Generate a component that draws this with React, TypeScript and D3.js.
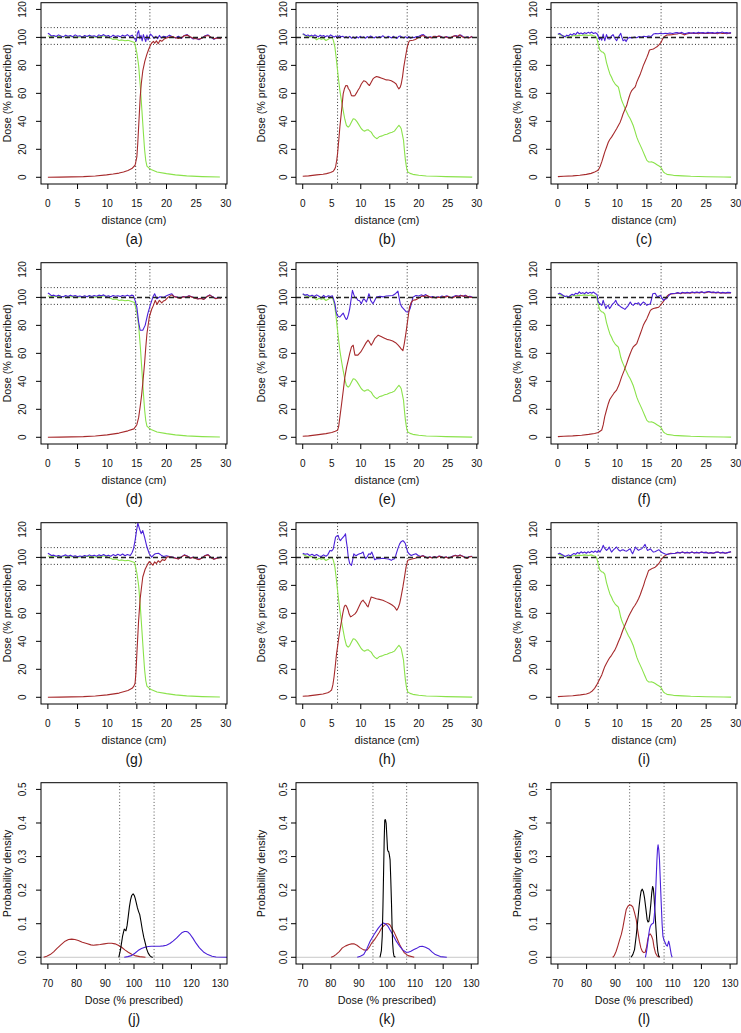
import * as d3 from 'd3';

type Pt = [number, number];

const RED = '#a62a2c';
const GREEN = '#8ae24a';
const BLUE = '#4a20d8';

const DIST_TICKS = [0, 5, 10, 15, 20, 25, 30];
const DOSE_TICKS = [0, 20, 40, 60, 80, 100, 120];
const DENS_X_TICKS = [70, 80, 90, 100, 110, 120, 130];
const DENS_Y_TICKS = [0, 0.1, 0.2, 0.3, 0.4, 0.5];
const TOLERANCE = [95, 107];
const PRESCRIBED = 100;

// field edges (cm) per column
const EDGES = [[14.8, 17.2], [6.0, 18.0], [6.8, 17.4]];

// ---- column 1: green field (a, d, g)
const GREEN_1: Pt[] = [[0,101],[1,100.5],[2,100.8],[3,100.3],[4,100.6],[5,100.2],[6,100.5],[7,100.8],[8,100.2],[9,100.6],[9.5,101.2],[10,100.4],[10.5,99.6],[11,98.5],[11.5,98.8],[12,97.8],[12.5,98.2],[13,97.6],[13.5,97.9],[14,97.3],[14.6,96.4],[15.0,89],[15.3,80],[15.6,64],[15.85,48],[16.1,32],[16.3,20],[16.5,12],[16.7,8],[17.1,6.4],[17.4,5.6],[18.4,3.8],[20,2.6],[21.5,1.7],[23.4,1.0],[26,0.5],[29,0.2]];

const RED_A: Pt[] = [[0,0],[2,0.1],[4,0.3],[6,0.5],[8,0.9],[9.9,1.7],[11,2.3],[12,3.0],[12.75,3.8],[13.5,4.9],[14.16,6.2],[14.7,8.6],[15.0,14.5],[15.15,24],[15.3,36],[15.45,48],[15.56,57],[15.75,67],[16.0,76],[16.35,83],[16.7,88],[17.0,91.5],[17.25,94],[17.5,96],[17.8,97.2],[18.0,95.8],[18.3,97.5],[18.6,95.5],[18.9,98],[19.2,97.2],[19.6,98.8],[20,99.6],[20.5,100.2],[21,100.6],[21.5,99.8],[22,99.2],[22.5,99.8],[23,101.2],[23.5,101.6],[24,100.4],[24.5,99.4],[25,99.0],[25.5,98.8],[26,99.6],[26.5,100.8],[27,101.4],[27.5,100.2],[28,99.0],[28.5,99.6],[29.2,99.2]];

const BLUE_A: Pt[] = [[0,103],[0.3,102.2],[0.6,101],[1,101.4],[1.4,100.6],[1.8,101.8],[2.2,101],[2.6,100.4],[3,101.6],[3.4,100.8],[3.8,101.4],[4.2,100.5],[4.6,101.8],[5,100.8],[5.4,101.2],[5.8,100.2],[6.2,101.4],[6.6,100.6],[7,101.6],[7.4,100.8],[7.8,101.2],[8.2,100.4],[8.6,101.8],[9,101],[9.4,102],[9.8,100.8],[10.2,101.4],[10.6,100.2],[11,101.6],[11.4,100.6],[11.8,101.2],[12.2,100.4],[12.6,101.6],[13,100.8],[13.4,102],[13.8,100.6],[14.2,101.6],[14.6,99.2],[14.9,97.4],[15.1,103],[15.3,104.8],[15.5,99],[15.7,101.5],[15.9,97.5],[16.1,102],[16.3,99.5],[16.5,97],[16.7,101.6],[16.9,98.2],[17.1,100.4],[17.3,102.4],[17.6,101],[17.9,99.2],[18.2,100.8],[18.5,99],[18.8,101.4],[19.1,99.6],[19.5,100.8],[20,100.2],[20.5,101.6],[21,100.4],[21.5,99.6],[22,100.8],[22.5,99.2],[23,101.4],[23.5,102],[24,100.2],[24.5,98.8],[25,99.4],[25.5,98.4],[26,99.6],[26.5,101.2],[27,101.8],[27.5,100],[28,98.6],[28.5,99.8],[29.2,99]];

const RED_D: Pt[] = [[0,0],[2,0.1],[4,0.3],[6,0.5],[8,0.9],[10,1.7],[12,3.0],[13.5,4.6],[14.5,6.0],[15.0,9],[15.3,14],[15.56,21.9],[15.8,30],[16.0,38.5],[16.3,52.7],[16.5,64],[16.7,74],[17.1,86],[17.5,91.5],[17.8,94.3],[18.1,97.9],[18.4,95],[18.8,97.9],[19.2,96],[19.5,97.5],[19.8,98],[20.3,100.2],[20.9,101.8],[21.3,100.4],[21.8,100],[22.3,99.2],[22.8,100.4],[23.3,100],[23.8,101],[24.3,100.2],[24.8,99.4],[25.3,98.8],[25.8,99.2],[26.3,98.6],[26.8,100.4],[27.3,101.6],[27.8,100.2],[28.3,99],[28.8,99.8],[29.2,99.4]];

const BLUE_D: Pt[] = [[0,103.2],[0.3,102.4],[0.6,101.2],[1,101.6],[1.4,100.8],[1.8,101.6],[2.2,100.8],[2.6,100.4],[3,101.4],[3.4,100.6],[3.8,101.6],[4.2,100.8],[4.6,101.4],[5,100.6],[5.4,101],[5.8,100.4],[6.2,101.2],[6.6,100.4],[7,101.4],[7.4,100.6],[7.8,101.4],[8.2,100.8],[8.6,101.6],[9,101.2],[9.4,101.8],[9.8,100.6],[10.2,101.2],[10.6,100.4],[11,101.4],[11.4,100.8],[11.8,101.2],[12.2,100.6],[12.6,101.4],[13,100.8],[13.4,101.6],[13.8,100.8],[14.1,101.6],[14.4,101.4],[14.7,97.9],[15.0,93],[15.3,82.4],[15.56,76.5],[16.0,76.5],[16.4,80],[16.85,88.4],[17.25,94.3],[17.7,100.2],[18.0,102.6],[18.37,99],[18.9,100.5],[19.5,100],[20,101.2],[20.5,102],[20.9,102.6],[21.3,100.6],[21.8,100.2],[22.3,99.4],[22.8,100.6],[23.3,100.2],[23.8,101.2],[24.3,100.4],[24.8,99.6],[25.3,99],[25.8,99.4],[26.3,98.8],[26.8,100.6],[27.3,101.8],[27.8,100.4],[28.3,99.2],[28.8,100],[29.2,99.6]];

const RED_G: Pt[] = [[0,0],[2,0.1],[4,0.3],[6,0.5],[8,0.9],[10,1.7],[12,3.0],[13.5,4.9],[14.2,6.4],[14.5,8],[14.7,10],[14.85,18],[15.0,31],[15.15,43],[15.3,55],[15.56,70.5],[15.8,79],[16.0,86],[16.4,91.5],[16.8,95],[17.1,97],[17.4,95.8],[17.7,94.4],[18.0,96.8],[18.3,95.6],[18.6,97.6],[18.9,96.4],[19.3,98.4],[19.7,97.8],[20.1,100.4],[20.5,100.4],[21,100],[21.5,99.4],[22,98.8],[22.5,100.2],[23,101.6],[23.5,100.8],[24,99.4],[24.5,100],[25,99],[25.5,98.4],[26,99.6],[26.5,101.2],[27,101.8],[27.5,99.8],[28,98.6],[28.5,99.4],[29.2,100]];

const BLUE_G: Pt[] = [[0,103],[0.3,102.2],[0.6,101.4],[1,101.6],[1.4,100.8],[1.8,101.4],[2.2,100.6],[2.6,101.2],[3,101.8],[3.4,100.8],[3.8,101.6],[4.2,100.6],[4.6,101.2],[5,100.4],[5.4,101],[5.8,100.6],[6.2,101.4],[6.6,100.8],[7,101.8],[7.4,101],[7.8,101.6],[8.2,100.8],[8.6,101.8],[9,101.2],[9.4,102],[9.8,101],[10.2,101.6],[10.6,100.8],[11,102],[11.4,101.2],[11.8,102.2],[12.2,101.4],[12.6,102.4],[13,101.2],[13.4,102],[13.9,101.4],[14.2,103.5],[14.44,106.2],[14.7,112],[15.0,120.4],[15.17,124.5],[15.45,120.4],[15.73,117],[16.0,119.2],[16.3,114.5],[16.7,107.4],[17.1,102.6],[17.5,100.2],[17.8,101.6],[18.1,102.6],[18.65,103],[19.1,101.6],[19.5,100.7],[20,101.2],[20.5,100.6],[21,100.2],[21.5,99.6],[22,99],[22.5,100.4],[23,101.8],[23.5,101],[24,99.6],[24.5,100.2],[25,99.2],[25.5,98.6],[26,99.8],[26.5,101.4],[27,102],[27.5,100],[28,98.8],[28.5,99.6],[29.2,100.2]];

// ---- column 2: green field (b, e, h)
const GREEN_2: Pt[] = [[0,102.2],[0.5,101.2],[1,100.2],[1.5,100.6],[2,99.6],[2.4,98.2],[2.8,99.4],[3.2,98.6],[3.6,99.2],[4,97.8],[4.4,98.6],[4.8,99.8],[5.1,99.8],[5.3,97.5],[5.54,93],[5.75,86],[5.94,78.6],[6.2,69],[6.4,62],[6.7,54],[6.97,47.7],[7.25,41.5],[7.54,37],[7.83,35.9],[8.1,37],[8.4,39.5],[8.7,41.8],[9.0,41.5],[9.3,40],[9.5,38.7],[10.1,34.7],[10.4,33.5],[10.7,33],[11.0,33.8],[11.26,34],[11.5,33.2],[11.8,32.3],[12.1,30.2],[12.4,28.7],[12.8,27.6],[13.26,29.2],[13.7,29.6],[14.1,30.4],[14.5,30.8],[14.97,31.6],[15.4,32.2],[15.8,33],[16.2,35.2],[16.57,37.2],[16.8,36],[16.97,34.7],[17.2,30],[17.37,26.4],[17.55,18],[17.7,12.1],[17.9,6.5],[18.1,3.8],[18.5,2.8],[18.97,2.1],[20,1.5],[21.3,0.95],[23,0.7],[24.7,0.5],[27,0.3],[29.2,0.1]];

const RED_B: Pt[] = [[0,0.7],[1,1],[2.4,1.7],[3.5,2.2],[4.1,2.6],[4.8,3.4],[5.26,4.3],[5.5,5.8],[5.66,7.4],[5.85,12],[6.0,16.9],[6.2,26],[6.4,35.9],[6.7,48],[6.97,59.6],[7.2,63.5],[7.43,65.6],[7.7,65.4],[7.85,63.5],[8.1,62],[8.4,58.4],[8.7,58.2],[9.0,58.4],[9.3,60.5],[9.5,62],[9.8,64],[10.1,66.7],[10.5,69],[10.75,68.6],[10.97,68],[11.25,66.5],[11.5,65.6],[11.8,68],[12.1,70.3],[12.4,71.4],[12.7,72],[13.1,71.6],[13.5,71],[14.0,70.2],[14.4,69.6],[14.8,69.5],[15.26,69],[15.7,68],[16.1,66.7],[16.35,64.5],[16.57,63.2],[16.8,64.5],[16.97,66.7],[17.2,72],[17.4,78.6],[17.7,86],[18.0,92.9],[18.2,96],[18.4,97.6],[19.0,98],[19.4,98.5],[19.8,99.5],[20.2,100.2],[20.6,101.4],[21,100.8],[21.4,99.4],[21.8,100.2],[22.2,99.6],[22.6,100.8],[23,100.2],[23.4,101],[23.8,100.4],[24.2,99.6],[24.6,100.4],[25,99.8],[25.4,99.4],[25.8,100.6],[26.2,101.2],[26.6,100.4],[27,101.8],[27.4,100.6],[27.8,99.8],[28.2,100.2],[28.6,99.6],[29.2,100.6]];

const BLUE_B: Pt[] = [[0,102.6],[0.3,102],[0.6,101.2],[0.9,101.8],[1.2,100.8],[1.5,101.6],[1.8,100.8],[2.1,101.8],[2.4,101],[2.7,100.4],[3,101.6],[3.3,100.8],[3.6,101.4],[3.9,100.4],[4.2,101.2],[4.5,100.6],[4.8,101.8],[5.1,101],[5.4,100.2],[5.7,101],[6,100.2],[6.3,101.2],[6.6,100.4],[6.9,100.8],[7.2,99.8],[7.5,100.6],[7.8,99.6],[8.1,100.8],[8.4,99.4],[8.7,100.4],[9,99.2],[9.3,100.6],[9.6,99.6],[9.9,100.8],[10.2,99.8],[10.5,100.4],[10.8,99.4],[11.1,100.6],[11.4,99.8],[11.7,101],[12,100.2],[12.3,99.6],[12.6,100.4],[12.9,99.8],[13.2,100.6],[13.5,100],[13.8,101.2],[14.1,100],[14.4,99.6],[14.7,100.8],[15,100.2],[15.3,99.6],[15.6,100.8],[15.9,100],[16.2,99.2],[16.5,100.6],[16.8,101],[17.1,100.2],[17.4,99.6],[17.7,100.4],[18,99.8],[18.3,100.6],[18.6,99.4],[18.9,100.2],[19.2,99.8],[19.5,100.4],[20,100.8],[20.4,101.6],[20.8,102],[21.2,100.6],[21.6,99.6],[22,100.4],[22.4,99.8],[22.8,100.8],[23.2,100.4],[23.6,101],[24,100.2],[24.4,99.8],[24.8,100.6],[25.2,99.6],[25.6,99.8],[26,100.8],[26.4,101.4],[26.8,100.6],[27.2,101.8],[27.6,100.6],[28,99.8],[28.4,100.4],[28.8,99.8],[29.2,100.8]];

const RED_E: Pt[] = [[0,0.7],[1,1],[2.4,1.7],[4,2.6],[5,3.4],[5.6,4.3],[6.0,5.0],[6.2,8],[6.45,16],[6.7,24],[7.0,34],[7.26,43],[7.55,50],[7.83,55],[8.1,60],[8.4,64.6],[8.7,65.8],[8.85,62],[9.0,58.7],[9.5,58.7],[10.0,61],[10.5,64.6],[10.9,67.5],[11.26,69.4],[11.5,68],[11.8,65.8],[12.1,68],[12.4,70.5],[12.7,71.8],[13.0,73],[13.5,72],[14,71],[14.5,70],[15,69.6],[15.5,68.8],[16,67.6],[16.4,66],[16.7,64.6],[17.0,63],[17.26,62],[17.5,67],[17.8,75],[18.1,84],[18.4,93],[18.7,96.5],[19.0,97.9],[19.4,98.2],[19.8,99],[20.2,100],[20.6,101],[21,100.6],[21.4,101.4],[21.8,100.4],[22.2,99.8],[22.6,100.2],[23,99.6],[23.4,100.2],[23.8,99.8],[24.2,100.6],[24.6,100.2],[25,100.8],[25.4,100],[25.8,99.6],[26.2,100.4],[26.6,101],[27,100.6],[27.4,101.4],[27.8,100.6],[28.2,101.2],[28.6,100.2],[29.2,100]];

const BLUE_E: Pt[] = [[0,102.6],[0.4,101.6],[0.8,102],[1.2,100.8],[1.6,101.6],[2,100.6],[2.4,101.8],[2.8,100.8],[3.2,99.6],[3.6,101.4],[4,100.2],[4.4,101.2],[4.8,100.6],[5.1,101.2],[5.3,99],[5.54,95.5],[5.75,90],[5.94,87],[6.2,86.4],[6.4,86],[6.7,87.5],[6.97,88.8],[7.26,86],[7.5,84.2],[7.66,84.8],[7.9,88],[8.1,92],[8.35,99],[8.57,105],[8.8,102],[9.0,100],[9.3,99.4],[9.5,98],[9.8,97.6],[10.1,95.5],[10.3,97.5],[10.5,99],[10.75,98],[10.97,96.7],[11.2,99.5],[11.4,102.6],[11.55,101],[11.7,97.9],[12.1,95.5],[12.4,97.8],[12.7,100.2],[13.3,100.7],[13.9,100.4],[14.4,101],[15,101.2],[15.5,101.4],[15.9,102.4],[16.4,104.5],[16.6,100],[16.8,95.5],[17.1,93],[17.5,91.2],[17.8,89.8],[18.1,89.5],[18.3,90.2],[18.5,92],[18.75,96],[19.0,100.2],[19.5,101.4],[20,101],[20.4,101.8],[20.8,101.2],[21.2,102],[21.6,100.8],[22,100.2],[22.4,100.6],[22.8,99.8],[23.2,100.4],[23.6,100],[24,101],[24.4,100.4],[24.8,101.2],[25.2,100.4],[25.6,99.8],[26,100.6],[26.4,101.4],[26.8,100.8],[27.2,101.6],[27.6,100.8],[28,101.6],[28.4,100.4],[28.8,100.8],[29.2,100.2]];

const RED_H: Pt[] = [[0,0.7],[1,1],[2.4,1.7],[3.5,2.3],[4.3,3.2],[4.7,4.2],[4.97,5.2],[5.2,9],[5.4,14.7],[5.6,22],[5.83,31.4],[6.0,36],[6.23,43.2],[6.45,49],[6.7,55],[6.9,60],[7.14,64.6],[7.3,65.8],[7.43,65.8],[7.6,64.5],[7.83,62.2],[8.0,59.5],[8.23,57.5],[8.45,58],[8.7,58.7],[9.0,59.6],[9.26,61],[9.6,64],[9.94,67],[10.15,68.6],[10.4,69.4],[10.6,68.2],[10.86,67],[11.05,65.5],[11.26,64.6],[11.5,68],[11.8,71.7],[12.2,71.2],[12.7,70.5],[13.2,70],[13.8,69.4],[14.4,68.2],[14.97,67],[15.4,66],[15.8,64.6],[16.0,63.5],[16.2,62.2],[16.45,64],[16.7,67],[16.95,72],[17.26,78.9],[17.5,85],[17.8,93.1],[18.1,97.9],[18.5,98.5],[19.0,99],[19.4,99.4],[19.8,100.2],[20.3,100.4],[20.7,101.2],[21.1,100.2],[21.5,99.4],[21.9,100.2],[22.3,99.6],[22.7,100.4],[23.1,99.8],[23.5,100.8],[23.9,100.4],[24.3,99.6],[24.7,100.2],[25.1,99.4],[25.5,100],[25.9,100.8],[26.3,101.4],[26.7,100.8],[27.1,101.6],[27.5,100.8],[27.9,100],[28.3,99.2],[28.7,100.4],[29.2,100.6]];

const BLUE_H: Pt[] = [[0,103],[0.4,102.2],[0.8,102.6],[1.2,101.4],[1.6,102.2],[2,101.2],[2.4,102],[2.8,101],[3.2,100.6],[3.6,101.8],[4,100.8],[4.3,101.8],[4.7,105],[5.0,104.6],[5.26,106],[5.45,110],[5.66,114.5],[5.9,115.4],[6.1,115.7],[6.3,113],[6.5,112],[6.75,113.5],[6.97,114.5],[7.2,115.5],[7.37,116.9],[7.5,112],[7.66,107.4],[7.85,100],[8.1,95.5],[8.4,94.3],[8.6,98],[8.8,102.6],[9.0,101.6],[9.26,101.4],[9.5,102],[9.8,102.6],[10.1,103],[10.4,103.8],[10.6,101],[10.86,99],[11.1,100.5],[11.4,102.6],[11.65,102],[11.9,103.8],[12.15,101],[12.4,98.3],[12.8,99.2],[13.26,99],[13.8,99.4],[14.4,99],[14.8,98.8],[15.26,97.9],[15.5,98.6],[15.8,99],[16.0,101],[16.2,103.8],[16.45,107],[16.7,109.7],[17.0,111.4],[17.26,112],[17.5,111],[17.7,109.7],[17.9,106.5],[18.1,103.8],[18.4,102.2],[18.7,101.4],[19.1,102],[19.5,102.6],[19.9,101.4],[20.3,100.6],[20.7,101.4],[21.1,100.4],[21.5,99.6],[21.9,100.4],[22.3,99.8],[22.7,100.6],[23.1,100],[23.5,101],[23.9,100.6],[24.3,99.8],[24.7,100.4],[25.1,99.6],[25.5,100.2],[25.9,101],[26.3,101.6],[26.7,101],[27.1,101.8],[27.5,101],[27.9,100.2],[28.3,99.4],[28.7,100.6],[29.2,100.8]];

// ---- column 3: green field (c, f, i)
const GREEN_3: Pt[] = [[0,102.4],[0.4,101.8],[0.8,101.2],[1.2,100.6],[1.6,100],[2,100.4],[2.4,101],[2.8,101.4],[3.2,101.2],[3.6,101.6],[4,101.4],[4.4,101.8],[4.8,101.6],[5.2,101.4],[5.6,101.8],[6,101.2],[6.3,100.8],[6.5,100],[6.65,98],[6.8,95],[7.07,91],[7.35,89.8],[7.64,89.3],[7.9,88],[8.2,82],[8.5,77.5],[8.77,73.9],[9.05,71.5],[9.3,69],[9.6,67],[9.9,65.6],[10.2,64.4],[10.4,61],[10.6,57.2],[10.8,54.5],[11.0,52.5],[11.3,49.5],[11.6,46.6],[11.9,44],[12.2,41.8],[12.45,39.5],[12.7,37],[13.0,33],[13.3,28.7],[13.6,25.5],[13.9,22.8],[14.15,20.5],[14.4,18],[14.7,15],[15.0,12.1],[15.3,11],[15.6,10.9],[15.85,11],[16.1,10.5],[16.4,9.8],[16.7,9],[17.0,8.2],[17.3,7.4],[17.55,5.8],[17.8,3.8],[18.1,2.8],[18.4,2.1],[19.5,1.4],[21,1],[22.4,0.7],[25,0.4],[28,0.2],[29.2,0.1]];

const RED_C: Pt[] = [[0,0.5],[1,0.7],[2.5,1],[3.7,1.5],[4.8,2.1],[5.6,2.8],[6.2,3.8],[6.8,5],[7.1,7.5],[7.4,11],[7.65,14.5],[7.9,18],[8.2,21.5],[8.5,25],[8.75,27],[9.05,28.7],[9.45,31.5],[9.9,34.7],[10.2,37],[10.5,39.4],[10.75,42.2],[11.0,45.4],[11.3,48.4],[11.6,51.3],[11.8,54.5],[12.0,57.2],[12.2,59.8],[12.45,62],[12.7,63.2],[13.0,64.4],[13.15,66],[13.3,68],[13.6,71],[13.9,73.9],[14.15,76.8],[14.4,79.8],[14.7,82.8],[15.0,85.7],[15.25,88.5],[15.45,91],[15.75,91.4],[16.1,91.7],[16.4,92.5],[16.7,93.3],[17.0,94.5],[17.4,96.4],[17.6,98.4],[17.8,100],[18.1,101],[18.4,101.7],[18.8,101.8],[19.2,101.9],[19.6,102.2],[20.1,102.4],[20.5,103],[20.9,102.6],[21.3,101.8],[21.7,102.4],[22.1,102.8],[22.5,103.2],[22.9,102.8],[23.3,103],[23.7,102.6],[24.1,103.2],[24.5,102.8],[24.9,103],[25.3,102.8],[25.7,103.2],[26.1,102.8],[26.5,103],[26.9,102.6],[27.3,103.4],[27.7,102.8],[28.1,103],[28.5,102.6],[28.9,103.2],[29.2,103]];

const BLUE_C: Pt[] = [[0,102.2],[0.3,102.8],[0.6,101.8],[0.9,101],[1.2,100.4],[1.5,101.6],[1.8,101],[2.1,102.4],[2.4,101.6],[2.7,102.8],[3,102],[3.3,103.8],[3.6,102.6],[3.9,103.2],[4.2,102.4],[4.5,103.4],[4.8,102.8],[5.1,103.6],[5.4,103],[5.7,103.8],[6,102.8],[6.3,103.4],[6.6,102.6],[6.8,100.8],[7.0,98.4],[7.2,100],[7.4,98],[7.64,102.4],[7.9,97.6],[8.2,102],[8.45,99],[8.77,98.8],[9.0,100.8],[9.3,102],[9.6,99.4],[9.9,97.6],[10.2,100.2],[10.6,102.9],[10.8,100],[11.0,97.6],[11.3,98.4],[11.5,97],[11.8,99.4],[12.1,100],[12.5,99.6],[12.9,100.2],[13.3,99.8],[13.7,100.6],[14.1,100.2],[14.5,100.8],[14.9,100.4],[15.3,101],[15.7,100.6],[16.1,102.4],[16.5,102.8],[16.9,102.6],[17.3,103],[17.7,102.6],[18.1,103],[18.5,102.8],[18.9,103.2],[19.3,102.8],[19.7,103.2],[20.1,103.4],[20.5,103],[20.9,103.6],[21.3,102.6],[21.7,103],[22.1,103.4],[22.5,103],[22.9,103.4],[23.3,103],[23.7,103.6],[24.1,103.2],[24.5,103.4],[24.9,103],[25.3,103.6],[25.7,103.2],[26.1,103.4],[26.5,103],[26.9,103.6],[27.3,103.2],[27.7,103.8],[28.1,103.2],[28.5,103.4],[28.9,103],[29.2,103.4]];

const RED_F: Pt[] = [[0,0.5],[1,0.7],[2.5,1],[4,1.5],[5.2,2.1],[6.2,2.7],[6.8,3.4],[7.1,4.3],[7.4,5.2],[7.65,9],[7.9,14.7],[8.2,19.5],[8.5,24],[8.75,27],[9.05,29],[9.45,31.5],[9.9,33.7],[10.3,37.5],[10.75,43.2],[11.2,48],[11.6,52.7],[11.9,56.5],[12.2,59.9],[12.45,62.5],[12.7,64.6],[13.0,65.8],[13.3,67],[13.6,70.5],[13.9,74],[14.15,77],[14.4,80],[14.7,82.5],[15.0,84.8],[15.3,87.8],[15.6,90.7],[15.85,91.5],[16.1,92],[16.55,92.5],[17.0,93],[17.25,94.2],[17.5,95.5],[17.8,97.2],[18.1,99],[18.4,100.8],[18.7,102],[19.1,102.4],[19.5,102.6],[19.9,102.8],[20.3,103.2],[20.7,102.6],[21.1,103.4],[21.5,103],[21.9,103.4],[22.3,103],[22.7,103.6],[23.1,103.2],[23.5,103.6],[23.9,103.2],[24.3,103.8],[24.7,103.2],[25.1,103.6],[25.5,104],[25.9,103.4],[26.3,103.6],[26.7,103.2],[27.1,103.6],[27.5,103],[27.9,103.4],[28.3,103],[28.7,103.4],[29.2,103.2]];

const BLUE_F: Pt[] = [[0,102.4],[0.3,103],[0.6,102.2],[0.9,101.4],[1.2,100.6],[1.5,101],[1.8,100.2],[2.1,101.4],[2.4,102.2],[2.7,101.6],[3,103],[3.3,102.4],[3.6,104],[3.9,102.8],[4.2,103.4],[4.5,102.6],[4.8,103.8],[5.1,102.8],[5.4,103.6],[5.7,103],[6,103.8],[6.3,102.8],[6.6,102],[6.8,96.7],[7.1,95.5],[7.4,94.3],[7.64,97.9],[7.85,95],[8.1,92],[8.3,93.8],[8.5,94.3],[8.7,92],[8.9,93],[9.1,94.5],[9.3,95.5],[9.55,96.5],[9.75,97.9],[10.0,95.5],[10.2,94.3],[10.45,93.8],[10.7,93],[11.0,92.3],[11.3,91.4],[11.6,92.8],[11.9,94.3],[12.2,96.7],[12.45,95],[12.7,94.3],[13.0,95.8],[13.3,95.5],[13.6,96.2],[13.9,94.3],[14.15,95.5],[14.4,96.7],[14.7,95.8],[15.0,94.3],[15.3,95],[15.6,95.5],[15.8,99],[16.0,102.6],[16.4,103],[16.6,101.5],[16.8,100.2],[17.05,101],[17.3,101.4],[17.55,99.5],[17.8,97.9],[18.05,98.6],[18.3,99],[18.65,101],[19.0,102.6],[19.4,102.8],[19.8,103],[20.2,103.4],[20.6,102.8],[21,103.6],[21.4,103.2],[21.8,103.6],[22.2,103.2],[22.6,103.8],[23,103.4],[23.4,103.8],[23.8,103.4],[24.2,104],[24.6,103.4],[25,103.8],[25.4,104.2],[25.8,103.6],[26.2,103.8],[26.6,103.4],[27,103.8],[27.4,103.2],[27.8,103.6],[28.2,103.2],[28.6,103.6],[29.2,103.4]];

const RED_I: Pt[] = [[0,0.5],[1,0.7],[2.5,1.1],[3.8,1.7],[4.8,2.4],[5.4,3.3],[5.8,4.5],[6.2,6.4],[6.5,8.5],[6.8,11],[7.1,13.5],[7.4,16],[7.65,19],[7.9,21.9],[8.2,24.4],[8.5,26.6],[8.75,28.4],[9.05,30],[9.3,31.8],[9.6,33.7],[9.9,36.5],[10.2,39.7],[10.5,42.5],[10.75,45.6],[11.0,48.5],[11.3,51.5],[11.6,54.5],[11.9,57.5],[12.2,60],[12.45,62],[12.7,64],[13.0,65.8],[13.3,68],[13.6,70.5],[13.9,73.5],[14.15,76.5],[14.45,80],[14.7,83.6],[15.0,87],[15.3,90.7],[15.6,91.3],[15.85,92],[16.1,92.4],[16.4,93],[16.7,94.2],[17.0,95.5],[17.25,97.2],[17.5,99],[17.8,100.4],[18.1,101.4],[18.5,102.2],[19.0,103],[19.4,102.8],[19.8,103],[20.2,103.6],[20.6,103.2],[21,103.8],[21.4,103.2],[21.8,103.6],[22.2,103.2],[22.6,103.8],[23,103.2],[23.4,103.6],[23.8,103.2],[24.2,103.8],[24.6,103.4],[25,103.6],[25.4,103],[25.8,103.4],[26.2,103],[26.6,103.6],[27,103.8],[27.4,103.2],[27.8,103.6],[28.2,103],[28.6,103.4],[29.2,104]];

const BLUE_I: Pt[] = [[0,102.4],[0.3,103],[0.6,102.2],[0.9,101.6],[1.2,100.6],[1.5,101.2],[1.8,101.8],[2.1,101],[2.4,102],[2.7,102.8],[3,102.2],[3.3,103.6],[3.6,102.8],[3.9,104],[4.2,103.2],[4.5,103.8],[4.8,103],[5.1,104],[5.4,103.4],[5.7,104.4],[6,103.6],[6.3,104.6],[6.6,103.6],[6.85,105],[7.1,103.8],[7.4,106],[7.64,108.6],[7.9,106.4],[8.2,105],[8.45,106],[8.66,107.4],[8.85,105.5],[9.05,103.8],[9.4,105.5],[9.65,106.5],[9.9,107.4],[10.2,105.5],[10.5,104.5],[10.75,105.2],[11.0,105.5],[11.3,104.8],[11.6,104.5],[11.9,105.4],[12.2,106.2],[12.4,104],[12.6,102.6],[12.85,105],[13.1,107.4],[13.35,106],[13.6,105],[13.9,105.8],[14.15,106.2],[14.45,107.8],[14.7,109.3],[14.9,107],[15.1,105],[15.35,105.4],[15.6,106.2],[15.85,104.8],[16.1,103.8],[16.35,104],[16.6,104.5],[16.8,105],[17.0,105.5],[17.2,104.8],[17.4,103.8],[17.8,103],[18.1,102.4],[18.4,102],[18.7,102.4],[19.0,102.6],[19.4,102.8],[19.8,103],[20.2,103.6],[20.6,103.2],[21,103.8],[21.4,103.2],[21.8,103.6],[22.2,103.2],[22.6,103.8],[23,103.2],[23.4,103.6],[23.8,103.2],[24.2,103.8],[24.6,103.4],[25,103.6],[25.4,103],[25.8,103.4],[26.2,103],[26.6,103.6],[27,103.8],[27.4,103.2],[27.8,103.6],[28.2,103],[28.6,103.4],[29.2,104]];

// ---- dose densities (j, k, l)
const DENS_J_BLACK: Pt[] = [[94.7,0],[95.3,0.023],[96.0,0.062],[96.6,0.084],[97.2,0.079],[97.6,0.095],[98.0,0.122],[98.4,0.15],[98.8,0.171],[99.2,0.184],[99.7,0.189],[100.1,0.184],[100.4,0.176],[100.8,0.162],[101.2,0.147],[101.6,0.136],[102.0,0.127],[102.4,0.108],[102.9,0.082],[103.4,0.06],[103.9,0.043],[104.4,0.025],[104.9,0.013],[105.5,0.005],[106.1,0.001],[106.6,0]];
const DENS_J_RED: Pt[] = [[68.5,0],[69.6,0.003],[70.8,0.008],[72,0.016],[73.1,0.026],[74.5,0.037],[76.0,0.048],[77.2,0.053],[78.3,0.054],[79.4,0.053],[80.6,0.05],[82,0.045],[83.5,0.041],[85,0.037],[85.8,0.036],[87,0.037],[88.2,0.038],[89.6,0.04],[91,0.042],[92.2,0.042],[93.4,0.04],[94.5,0.036],[95.7,0.03],[96.8,0.022],[98.0,0.015],[99.2,0.009],[100.3,0.005],[102,0.002],[104,0]];
const DENS_J_BLUE: Pt[] = [[96.6,0],[97.8,0.002],[99.1,0.005],[100.3,0.012],[101.4,0.02],[102.6,0.026],[103.8,0.03],[105,0.032],[106.1,0.033],[107.5,0.033],[108.96,0.033],[110.2,0.034],[111.3,0.036],[112.5,0.041],[113.6,0.048],[114.8,0.057],[115.9,0.067],[116.8,0.074],[117.6,0.077],[118.2,0.077],[118.8,0.075],[119.6,0.068],[120.5,0.057],[121.6,0.042],[122.8,0.028],[124.2,0.016],[125.7,0.008],[127.2,0.003],[128.6,0.001],[133,0]];

const DENS_K_BLACK: Pt[] = [[97.5,0],[98.0,0.02],[98.3,0.062],[98.55,0.15],[98.8,0.26],[99.0,0.35],[99.2,0.409],[99.45,0.41],[99.7,0.399],[99.95,0.36],[100.2,0.32],[100.4,0.316],[100.6,0.315],[100.85,0.305],[101.1,0.29],[101.35,0.23],[101.6,0.161],[101.8,0.095],[102.0,0.043],[102.25,0.015],[102.5,0.003],[103,0]];
const DENS_K_RED: Pt[] = [[80.1,0],[81,0.003],[81.8,0.008],[83,0.017],[84.1,0.028],[85.3,0.034],[86.5,0.038],[87.4,0.04],[88.2,0.04],[89.3,0.036],[90.5,0.028],[91.7,0.022],[92.85,0.021],[93.7,0.03],[94.6,0.043],[95.5,0.052],[96.3,0.062],[97.2,0.074],[98.1,0.087],[99,0.095],[99.8,0.1],[100.4,0.1],[101,0.097],[101.8,0.086],[102.7,0.072],[103.6,0.055],[104.5,0.038],[105.4,0.024],[106.2,0.013],[107.5,0.005],[109.7,0]];
const DENS_K_BLUE: Pt[] = [[89.4,0],[90.5,0.003],[91.7,0.008],[92.8,0.025],[94.0,0.048],[95.4,0.068],[96.9,0.087],[97.8,0.096],[98.7,0.102],[99.6,0.099],[100.4,0.092],[101.2,0.08],[102.1,0.067],[103.3,0.048],[104.5,0.033],[105.6,0.022],[106.8,0.015],[107.6,0.015],[108.5,0.018],[109.6,0.023],[110.8,0.028],[111.7,0.032],[112.6,0.033],[113.7,0.03],[114.9,0.025],[116,0.016],[117.2,0.008],[119,0.002],[121.3,0]];

const DENS_L_RED: Pt[] = [[89.1,0],[89.7,0.006],[90.3,0.018],[90.9,0.034],[91.5,0.052],[92.1,0.068],[92.6,0.087],[93.2,0.115],[93.8,0.142],[94.4,0.152],[94.95,0.156],[95.5,0.155],[96.1,0.15],[96.7,0.133],[97.3,0.112],[97.8,0.08],[98.4,0.048],[98.9,0.028],[99.4,0.018],[99.9,0.014],[100.4,0.015],[100.9,0.03],[101.3,0.052],[101.7,0.065],[102.1,0.07],[102.6,0.064],[103.1,0.052],[103.5,0.03],[104.0,0.013],[104.6,0.004],[105.4,0]];
const DENS_L_BLACK: Pt[] = [[95.5,0],[96.1,0.008],[96.7,0.023],[97.3,0.065],[97.85,0.112],[98.3,0.152],[98.7,0.181],[99.0,0.197],[99.4,0.203],[99.8,0.195],[100.2,0.176],[100.65,0.145],[101.1,0.112],[101.4,0.105],[101.7,0.107],[102.05,0.13],[102.4,0.161],[102.7,0.192],[103.0,0.211],[103.25,0.205],[103.5,0.181],[103.85,0.13],[104.2,0.082],[104.5,0.045],[104.8,0.018],[105.1,0.005],[105.4,0]];
const DENS_L_BLUE: Pt[] = [[100.5,0],[100.9,0.018],[101.3,0.043],[101.6,0.065],[101.9,0.082],[102.2,0.092],[102.5,0.097],[102.9,0.1],[103.3,0.102],[103.6,0.125],[103.9,0.161],[104.2,0.225],[104.5,0.29],[104.7,0.322],[104.9,0.335],[105.15,0.32],[105.4,0.29],[105.7,0.225],[106.0,0.161],[106.3,0.1],[106.6,0.062],[107.0,0.05],[107.4,0.043],[107.75,0.036],[108.1,0.033],[108.35,0.04],[108.6,0.048],[108.9,0.038],[109.2,0.023],[109.5,0.008],[109.8,0]];

// ---- layout
const COL_LEFT = [41, 296, 551];
const COL_RIGHT = [227, 478, 737];
const YTICK_X = [22, 283, 533];
const YLAB_X = [7, 261, 517];
const ROW_TOP = [2.7, 262.7, 522.7, 782.7];
const BOX_H = 181.3;
const FONT = '"Liberation Sans", Arial, Helvetica, sans-serif';

interface Curve { pts: Pt[]; color: string }

interface PanelSpec {
  tag: string;
  col: number;
  row: number;
  curves: Curve[];
  kind: 'dose' | 'dens';
}

const PANELS: PanelSpec[] = [
  { tag: 'a', col: 0, row: 0, kind: 'dose', curves: [{ pts: GREEN_1, color: GREEN }, { pts: BLUE_A, color: BLUE }, { pts: RED_A, color: RED }] },
  { tag: 'b', col: 1, row: 0, kind: 'dose', curves: [{ pts: GREEN_2, color: GREEN }, { pts: BLUE_B, color: BLUE }, { pts: RED_B, color: RED }] },
  { tag: 'c', col: 2, row: 0, kind: 'dose', curves: [{ pts: GREEN_3, color: GREEN }, { pts: RED_C, color: RED }, { pts: BLUE_C, color: BLUE }] },
  { tag: 'd', col: 0, row: 1, kind: 'dose', curves: [{ pts: GREEN_1, color: GREEN }, { pts: BLUE_D, color: BLUE }, { pts: RED_D, color: RED }] },
  { tag: 'e', col: 1, row: 1, kind: 'dose', curves: [{ pts: GREEN_2, color: GREEN }, { pts: BLUE_E, color: BLUE }, { pts: RED_E, color: RED }] },
  { tag: 'f', col: 2, row: 1, kind: 'dose', curves: [{ pts: GREEN_3, color: GREEN }, { pts: RED_F, color: RED }, { pts: BLUE_F, color: BLUE }] },
  { tag: 'g', col: 0, row: 2, kind: 'dose', curves: [{ pts: GREEN_1, color: GREEN }, { pts: BLUE_G, color: BLUE }, { pts: RED_G, color: RED }] },
  { tag: 'h', col: 1, row: 2, kind: 'dose', curves: [{ pts: GREEN_2, color: GREEN }, { pts: BLUE_H, color: BLUE }, { pts: RED_H, color: RED }] },
  { tag: 'i', col: 2, row: 2, kind: 'dose', curves: [{ pts: GREEN_3, color: GREEN }, { pts: RED_I, color: RED }, { pts: BLUE_I, color: BLUE }] },
  { tag: 'j', col: 0, row: 3, kind: 'dens', curves: [{ pts: DENS_J_RED, color: RED }, { pts: DENS_J_BLUE, color: BLUE }, { pts: DENS_J_BLACK, color: '#000' }] },
  { tag: 'k', col: 1, row: 3, kind: 'dens', curves: [{ pts: DENS_K_RED, color: RED }, { pts: DENS_K_BLUE, color: BLUE }, { pts: DENS_K_BLACK, color: '#000' }] },
  { tag: 'l', col: 2, row: 3, kind: 'dens', curves: [{ pts: DENS_L_RED, color: RED }, { pts: DENS_L_BLACK, color: '#000' }, { pts: DENS_L_BLUE, color: BLUE }] },
];

function Panel({ spec }: { spec: PanelSpec }) {
  const { tag, col, row, curves, kind } = spec;
  const left = COL_LEFT[col];
  const right = COL_RIGHT[col];
  const top = ROW_TOP[row];
  const bottom = top + BOX_H;
  const dose = kind === 'dose';

  const x = d3.scaleLinear()
    .domain(dose ? [-1.16, 30.2] : [67.6, 132.4])
    .range([left, right]);
  const y = d3.scaleLinear()
    .domain(dose ? [-4.8, 124.8] : [-0.02, 0.52])
    .range([bottom, top]);

  const line = d3.line<Pt>().x(d => x(d[0])).y(d => y(d[1]));
  const xTicks = dose ? DIST_TICKS : DENS_X_TICKS;
  const yTicks = dose ? DOSE_TICKS : DENS_Y_TICKS;
  const yFmt = dose ? d3.format('d') : d3.format('.1f');
  const clipId = `clip-${tag}`;
  const midY = (top + bottom) / 2;

  return (
    <g>
      <defs>
        <clipPath id={clipId}>
          <rect x={left} y={top} width={right - left} height={bottom - top} />
        </clipPath>
      </defs>
      <g clipPath={`url(#${clipId})`}>
        {dose ? (
          <>
            {TOLERANCE.map(v => (
              <line key={`h${v}`} x1={left} x2={right} y1={y(v)} y2={y(v)}
                stroke="#333" strokeWidth={1} strokeDasharray="1,2.2" />
            ))}
            {EDGES[col].map(v => (
              <line key={`v${v}`} x1={x(v)} x2={x(v)} y1={top} y2={bottom}
                stroke="#333" strokeWidth={1} strokeDasharray="1,2.2" />
            ))}
          </>
        ) : (
          <>
            <line x1={left} x2={right} y1={y(0)} y2={y(0)} stroke="#c8c8c8" strokeWidth={1} />
            {TOLERANCE.map(v => (
              <line key={`v${v}`} x1={x(v)} x2={x(v)} y1={top} y2={bottom}
                stroke="#555" strokeWidth={1} strokeDasharray="1,2.2" />
            ))}
          </>
        )}
        {curves.map((c, i) => (
          <path key={i} d={line(c.pts) || ''} fill="none" stroke={c.color}
            strokeWidth={1.1} strokeLinejoin="round" />
        ))}
        {dose && (
          <line x1={left} x2={right} y1={y(PRESCRIBED)} y2={y(PRESCRIBED)}
            stroke="#222" strokeWidth={1.5} strokeDasharray="5,3" />
        )}
      </g>
      <rect x={left} y={top} width={right - left} height={bottom - top}
        fill="none" stroke="#000" strokeWidth={1} />

      {xTicks.map(t => (
        <g key={`xt${t}`}>
          <line x1={x(t)} x2={x(t)} y1={bottom} y2={bottom + 5} stroke="#000" strokeWidth={1} />
          <text x={x(t)} y={bottom + 22.5} textAnchor="middle" fontSize={10}
            fontFamily={FONT} fill="#111">{t}</text>
        </g>
      ))}
      {yTicks.map(t => (
        <g key={`yt${t}`}>
          <line x1={left - 5} x2={left} y1={y(t)} y2={y(t)} stroke="#000" strokeWidth={1} />
          <text transform={`translate(${YTICK_X[col]},${y(t)}) rotate(-90)`}
            textAnchor="middle" dy="0.35em" fontSize={10} fontFamily={FONT} fill="#111">
            {yFmt(t)}
          </text>
        </g>
      ))}

      <text x={(left + right) / 2} y={bottom + 39.5} textAnchor="middle" fontSize={10.8}
        fontFamily={FONT} fill="#111">
        {dose ? 'distance (cm)' : 'Dose (% prescribed)'}
      </text>
      <text transform={`translate(${YLAB_X[col]},${midY}) rotate(-90)`} textAnchor="middle"
        dy="0.35em" fontSize={10.8} fontFamily={FONT} fill="#111">
        {dose ? 'Dose (% prescribed)' : 'Probability density'}
      </text>
      <text x={(left + right) / 2} y={bottom + 60} textAnchor="middle" fontSize={14}
        fontFamily={FONT} fill="#111">{`(${tag})`}</text>
    </g>
  );
}

export default function App() {
  return (
    <svg width={741} height={1033} viewBox="0 0 741 1033"
      style={{ position: 'absolute', left: 0, top: 0, background: '#fff' }}>
      <rect x={0} y={0} width={741} height={1033} fill="#fff" />
      {PANELS.map(p => <Panel key={p.tag} spec={p} />)}
    </svg>
  );
}
